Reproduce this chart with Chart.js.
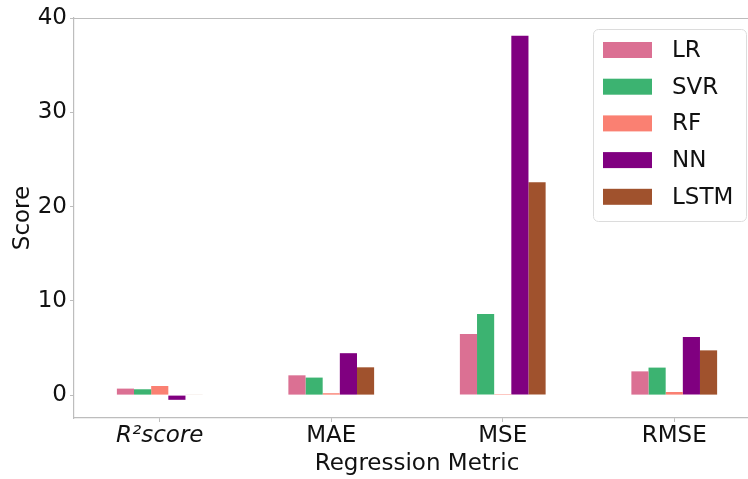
<!DOCTYPE html>
<html>
<head>
<meta charset="utf-8">
<script src="https://cdn.jsdelivr.net/npm/chart.js@4.4.1/dist/chart.umd.min.js"></script>
<style>
  html, body { margin: 0; padding: 0; background: #fff; overflow: hidden; }
  #wrap { width: 760px; height: 479px; }
</style>
</head>
<body>
<div id="wrap"><canvas id="c" width="760" height="479"></canvas></div>
<script>
// Regression metrics per model
const metrics = ['R²score', 'MAE', 'MSE', 'RMSE'];
const lrScores   = [0.69, 2.10, 6.49, 2.52];
const svrScores  = [0.62, 1.86, 8.60, 2.92];
const rfScores   = [0.97, 0.20, 0.10, 0.33];
const nnScores   = [-0.50, 4.45, 38.15, 6.17];
const lstmScores = [0.06, 2.95, 22.60, 4.75];
const yTicks = [0, 10, 20, 30, 40];

const FONT = 'DejaVu Sans';
const SPINE = '#bdbdbd';

// Frame line along the top of the plot area
const topSpine = {
  id: 'topSpine',
  afterDatasetsDraw(chart) {
    const { ctx, chartArea } = chart;
    ctx.save();
    ctx.strokeStyle = SPINE;
    ctx.lineWidth = 1.2;
    ctx.beginPath();
    ctx.moveTo(chartArea.left, chartArea.top + 0.5);
    ctx.lineTo(chartArea.right, chartArea.top + 0.5);
    ctx.stroke();
    ctx.restore();
  }
};

// Legend box drawn inside the plot area, upper right
const boxLegend = {
  id: 'boxLegend',
  afterDraw(chart) {
    const { ctx } = chart;
    const x0 = 593.5, y0 = 29.5, w = 153, h = 192, r = 5;
    ctx.save();
    ctx.fillStyle = 'rgba(255,255,255,0.85)';
    ctx.strokeStyle = '#dcdcdc';
    ctx.lineWidth = 1;
    ctx.beginPath();
    ctx.roundRect(x0, y0, w, h, r);
    ctx.fill();
    ctx.stroke();
    ctx.font = '23px "' + FONT + '"';
    ctx.textBaseline = 'middle';
    ctx.textAlign = 'left';
    chart.data.datasets.forEach((ds, i) => {
      const cy = 50 + i * 36.7;
      ctx.fillStyle = ds.backgroundColor;
      ctx.fillRect(603, cy - 8, 49, 16);
      ctx.fillStyle = '#111';
      ctx.fillText(ds.label, 672, cy + 1);
    });
    ctx.restore();
  }
};

const commonBar = { borderWidth: 0, categoryPercentage: 0.5, barPercentage: 1.0 };

new Chart(document.getElementById('c'), {
  type: 'bar',
  data: {
    labels: metrics,
    datasets: [
      { label: 'LR',   data: lrScores,   backgroundColor: '#DB7093', ...commonBar },
      { label: 'SVR',  data: svrScores,  backgroundColor: '#3CB371', ...commonBar },
      { label: 'RF',   data: rfScores,   backgroundColor: '#FA8072', ...commonBar },
      { label: 'NN',   data: nnScores,   backgroundColor: '#800080', ...commonBar },
      { label: 'LSTM', data: lstmScores, backgroundColor: '#A0522D', ...commonBar }
    ]
  },
  options: {
    responsive: false,
    animation: false,
    devicePixelRatio: 1,
    layout: { padding: { top: 18, right: 0, bottom: 0, left: 0 } },
    plugins: { legend: { display: false }, tooltip: { enabled: false } },
    scales: {
      x: {
        offset: true,
        grid: { display: true, offset: false, drawOnChartArea: false, drawTicks: true, tickLength: 4, color: SPINE },
        border: { display: true, color: SPINE, width: 1.2 },
        ticks: {
          color: '#111',
          padding: 0,
          maxRotation: 0,
          font: (ctx) => ({ family: FONT, size: 23, style: ctx.index === 0 ? 'italic' : 'normal' })
        },
        title: {
          display: true, text: 'Regression Metric', color: '#111',
          font: { family: FONT, size: 23 }, padding: { top: 0, bottom: 1 }
        },
        afterFit(scale) { scale.height = 61; }
      },
      y: {
        min: -2.43,
        max: 40.03,
        afterBuildTicks(scale) { scale.ticks = yTicks.map(v => ({ value: v })); },
        grid: { display: true, drawOnChartArea: false, drawTicks: true, tickLength: 4, color: SPINE },
        border: { display: true, color: SPINE, width: 1.2 },
        ticks: { color: '#111', padding: 3, font: { family: FONT, size: 23 } },
        title: {
          display: true, text: 'Score', color: '#111',
          font: { family: FONT, size: 23 }, padding: { top: 9, bottom: 0 }
        },
        afterFit(scale) { scale.width = 74; }
      }
    }
  },
  plugins: [topSpine, boxLegend]
});
</script>
</body>
</html>
